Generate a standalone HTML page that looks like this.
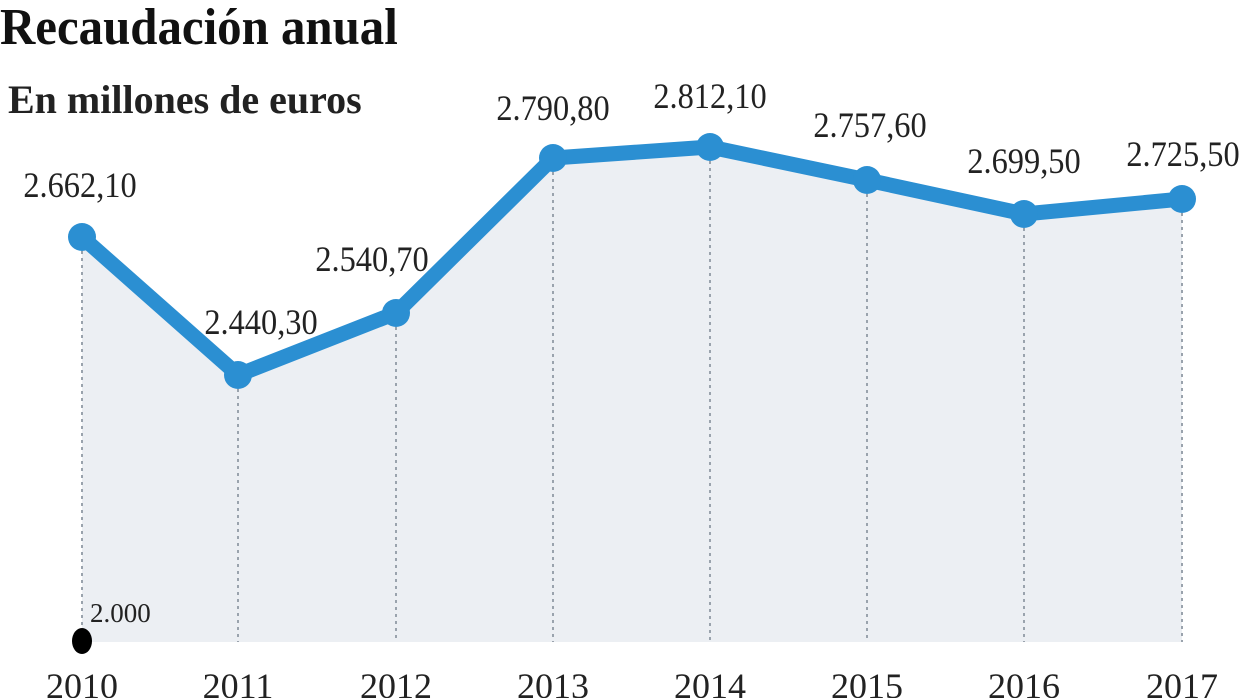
<!DOCTYPE html>
<html><head><meta charset="utf-8"><style>
html,body{margin:0;padding:0;background:#fff;width:1240px;height:698px;overflow:hidden}
svg text{font-family:"Liberation Serif",serif;fill:#222}
</style></head><body>
<svg width="1240" height="698" viewBox="0 0 1240 698">
<polygon points="82,237 238,375 396,313 553,158 710,147 867,180 1024,214 1182,199 1182,642 82,642" fill="#eceff3"/>
<g stroke="#9aa3ad" stroke-width="2" stroke-dasharray="3,4">
<line x1="82" y1="237" x2="82" y2="642"/><line x1="238" y1="375" x2="238" y2="642"/>
<line x1="396" y1="313" x2="396" y2="642"/><line x1="553" y1="158" x2="553" y2="642"/>
<line x1="710" y1="147" x2="710" y2="642"/><line x1="867" y1="180" x2="867" y2="642"/>
<line x1="1024" y1="214" x2="1024" y2="642"/><line x1="1182" y1="199" x2="1182" y2="642"/>
</g>
<polyline points="82,237 238,375 396,313 553,158 710,147 867,180 1024,214 1182,199" fill="none" stroke="#2b8fd2" stroke-width="15" stroke-linejoin="round"/>
<g fill="#2b8fd2">
<circle cx="82" cy="237" r="14"/><circle cx="238" cy="375" r="14"/><circle cx="396" cy="313" r="14"/><circle cx="553" cy="158" r="14"/><circle cx="710" cy="147" r="14"/><circle cx="867" cy="180" r="14"/><circle cx="1024" cy="214" r="14"/><circle cx="1182" cy="199" r="14"/>
</g>
<ellipse cx="82" cy="641" rx="10" ry="13" fill="#000"/>
<text x="0" y="44" font-size="52" font-weight="bold" transform="scale(0.94,1)" style="fill:#111">Recaudación anual</text>
<text x="8" y="113" font-size="40" font-weight="bold" style="fill:#222">En millones de euros</text>
<g font-size="36" text-anchor="middle">
<g transform="translate(80,197) scale(0.9,1)"><text>2.662,10</text></g>
<g transform="translate(261,334) scale(0.9,1)"><text>2.440,30</text></g>
<g transform="translate(372,271) scale(0.9,1)"><text>2.540,70</text></g>
<g transform="translate(553,120) scale(0.9,1)"><text>2.790,80</text></g>
<g transform="translate(710,108) scale(0.9,1)"><text>2.812,10</text></g>
<g transform="translate(870,137) scale(0.9,1)"><text>2.757,60</text></g>
<g transform="translate(1024,173) scale(0.9,1)"><text>2.699,50</text></g>
<g transform="translate(1183,166) scale(0.9,1)"><text>2.725,50</text></g>
</g>
<text x="90" y="622" font-size="27">2.000</text>
<g font-size="36" text-anchor="middle">
<text x="82" y="698">2010</text><text x="238" y="698">2011</text><text x="396" y="698">2012</text><text x="553" y="698">2013</text>
<text x="710" y="698">2014</text><text x="867" y="698">2015</text><text x="1024" y="698">2016</text><text x="1182" y="698">2017</text>
</g>
</svg>
</body></html>
